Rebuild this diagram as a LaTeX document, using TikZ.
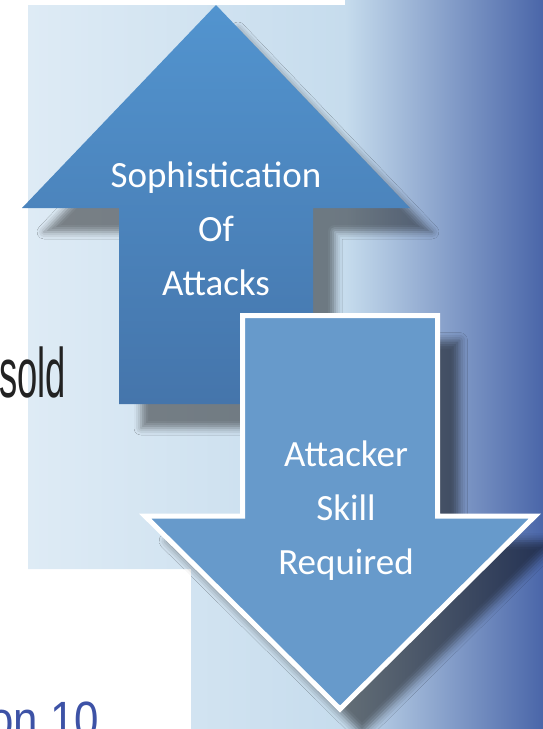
\documentclass[tikz,border=0pt]{standalone}
\usepackage{fontspec}
\setmainfont{Carlito}
\newfontfamily\slidefont[FakeStretch=0.86]{Liberation Sans}
\newfontfamily\narrowfont[FakeStretch=0.52]{Liberation Sans}
\usepackage{xcolor}
\usetikzlibrary{shapes,positioning,calc,shadows.blur}
\definecolor{panelLight}{HTML}{DEEBF5}
\definecolor{panelMid}{HTML}{C6DCED}
\definecolor{panelDark}{HTML}{4A66A9}
\definecolor{upTop}{HTML}{5294CF}
\definecolor{upBottom}{HTML}{4575AB}
\definecolor{downFill}{HTML}{679ACB}
\definecolor{slideBlue}{HTML}{3D52A6}
\definecolor{slideGray}{HTML}{222222}
\tikzstyle{arrowtext} = [text=white, align=center, inner sep=0pt, font=\fontsize{37}{54}\selectfont]
\tikzstyle{slidetext} = [anchor=base west, inner sep=0pt]
\tikzstyle{upshadow} = [blur shadow={shadow xshift=22pt, shadow yshift=-24pt, shadow blur radius=7pt, shadow opacity=45}]
\tikzstyle{downshadow} = [blur shadow={shadow xshift=22pt, shadow yshift=-25pt, shadow blur radius=8pt, shadow opacity=50}]

\begin{document}
\begin{tikzpicture}[x=1pt, y=-1pt]
    \useasboundingbox (0,0) rectangle (543,729);
    \clip (0,0) rectangle (543,729);

    % Background panel
    \begin{scope}
        \clip (28,5) -- (345,5) -- (345,0) -- (543,0) -- (543,729) -- (191,729) -- (191,569) -- (28,569) -- cycle;
        \shade[left color=panelLight, right color=panelMid] (28,0) rectangle (345,729);
        \shade[left color=panelMid, right color=panelDark] (345,0) rectangle (543,729);
    \end{scope}

    % Slide text
    \node[slidetext, font=\narrowfont\fontsize{70}{70}\selectfont, text=slideGray] (sold) at (-1,397) {sold};
    \node[slidetext, font=\slidefont\fontsize{51}{51}\selectfont, text=slideBlue] (topten) at (-11,737) {on 10};

    % Up arrow
    \path[upshadow, top color=upTop, bottom color=upBottom]
        (216,5) -- (410,208) -- (313,208) -- (313,404) -- (119,404) -- (119,208) -- (22,208) -- cycle;
    \node[arrowtext] (uplabel) at (216,229) {Sophistication\\Of\\Attacks};

    % Down arrow
    \path[downshadow, fill=downFill, draw=white, line width=5pt]
        (242.5,315.5) -- (437.5,315.5) -- (437.5,516) -- (535,516) -- (340,709) -- (145,516) -- (242.5,516) -- cycle;
    \node[arrowtext] (downlabel) at (346,511) {Attacker\\Skill\\Required};
\end{tikzpicture}
\end{document}
